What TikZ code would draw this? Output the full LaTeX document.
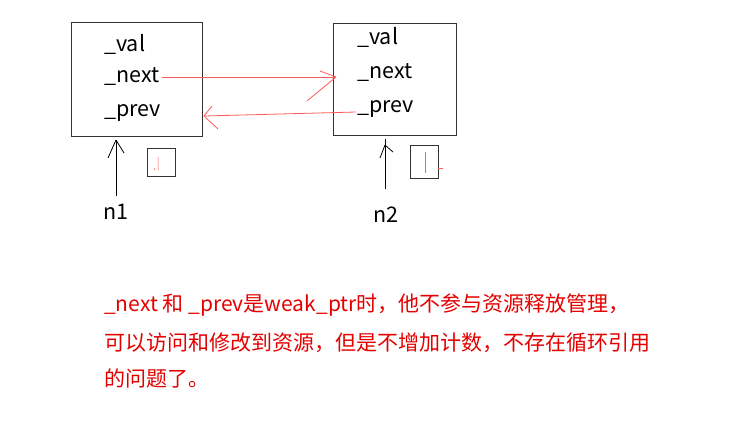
\documentclass[tikz,border=0pt]{standalone}
\usepackage{fontspec}
\setmainfont{Noto Sans CJK SC}
\newfontfamily\cjk{Noto Sans CJK SC}
\tikzset{
  field/.style={anchor=west,inner sep=0pt,font=\fontsize{21.5}{24}\selectfont},
  nodebox/.style={draw=black!80,line width=1pt},
  penred/.style={draw=red!65,line width=0.8pt},
  penblack/.style={draw=black,line width=0.8pt},
  note/.style={anchor=west,inner sep=0pt,text=red!90!black,font=\cjk\fontsize{21}{24}\selectfont}
}
\begin{document}
\begin{tikzpicture}[x=1pt,y=-1pt]
\useasboundingbox (0,0) rectangle (731,440);
% first list node
\draw[nodebox] (71,22) rectangle (202,136);
\node[field] (val1) at (104,44) {\_val};
\node[field] (next1) at (104,77) {\_next};
\node[field] (prev1) at (104,113) {\_prev};
% second list node
\draw[nodebox] (333,23) rectangle (456,135);
\node[field] (val2) at (357,37) {\_val};
\node[field] (next2) at (357,73) {\_next};
\node[field] (prev2) at (357,109) {\_prev};
% weak pointers
\coordinate (nexttip) at (336,77);
\coordinate (prevtip) at (204,116);
\draw[penred] (next1.east) ++(2,0) -- (nexttip);
\draw[penred] (nexttip) -- (320,71) (nexttip) -- (307,101);
\draw[penred] (prev2.west) ++(-1,3) -- (prevtip);
\draw[penred] (prevtip) -- (212,106) (prevtip) -- (218,129);
% pointers n1, n2
\node[field,anchor=center] (n1) at (116,212) {n1};
\node[field,anchor=center] (n2) at (386,215) {n2};
\coordinate (tip1) at (116,140);
\coordinate (tip2) at (385,139);
\draw[penblack] (116,196) -- (tip1);
\draw[penblack] (tip1) -- (108,158) (tip1) -- (124,153);
\draw[penblack] (385,189) -- (tip2);
\draw[penblack] (385,145) -- (380,158) (385,145) -- (393,152);
% small boxes
\draw[draw=black!80,line width=0.8pt] (147,148) rectangle (175,176);
\draw[penred,line width=0.5pt] (158,157) -- (158,170) (154,168) -- (155,170);
\draw[draw=black!80,line width=0.8pt] (410,145) rectangle (438,178);
\draw[penred,line width=0.5pt] (425,152) -- (425,173) (438,168) -- (443,168);
% remark
\node[note] (line1) at (104,305) {\_next 和 \_prev是weak\_ptr时，他不参与资源释放管理，};
\node[note] (line2) at (104,343) {可以访问和修改到资源，但是不增加计数，不存在循环引用};
\node[note] (line3) at (104,378) {的问题了。};
\end{tikzpicture}
\end{document}
